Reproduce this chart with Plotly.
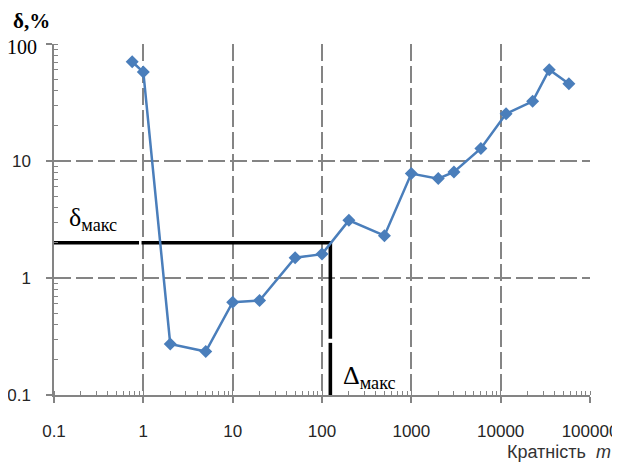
import plotly.graph_objects as go

# data
m_values = [0.75, 1, 2, 5, 10, 20, 50, 100, 200, 500, 1000, 2000, 3000, 6000, 11500, 22800, 35000, 58000]
delta_pct = [70.5, 57.5, 0.273, 0.235, 0.622, 0.642, 1.49, 1.60, 3.11, 2.30, 7.8, 7.07, 8.07, 12.8, 25.3, 32.4, 60.3, 45.7]

# reference (max) lines
ref_x = [0.1, 0.895, None, 0.955, 124, 124, None, 124, 124]
ref_y = [2, 2, None, 2, 2, 0.302, None, 0.279, 0.1]

x_tickvals = [0.1, 1, 10, 100, 1000, 10000, 100000]
x_ticktext = ["0.1", "1", "10", "100", "1000", "10000", "100000"]
y_tickvals = [0.1, 1, 10, 100]
y_ticktext = ["0.1", "1", "10", ""]

SANS = "Liberation Sans, Arial, sans-serif"
SERIF = "Liberation Serif, Times New Roman, serif"
GRID = "#848484"

fig = go.Figure()
fig.add_trace(go.Scatter(
    x=ref_x, y=ref_y, mode="lines",
    line=dict(color="black", width=3.6),
    hoverinfo="skip", showlegend=False, connectgaps=False,
))
fig.add_trace(go.Scatter(
    x=m_values, y=delta_pct, mode="lines+markers",
    line=dict(color="#4A7EBB", width=2.5),
    marker=dict(symbol="diamond", size=10, color="#4A7EBB"),
    showlegend=False,
))

common = dict(
    showgrid=True, gridcolor=GRID, gridwidth=1.5, griddash="17px,5px",
    showline=True, linecolor=GRID, linewidth=1.5,
    ticks="outside", ticklen=6, tickcolor=GRID, tickwidth=1.5,
    minor=dict(ticks="inside", ticklen=4, tickcolor=GRID, tickwidth=1, dtick="D1", showgrid=False),
    tickfont=dict(family=SANS, size=17, color="#262626"),
    zeroline=False, automargin=False,
)
fig.update_xaxes(type="log", range=[-1, 5], tickvals=x_tickvals, ticktext=x_ticktext,
                 ticklabelstandoff=14, **common)
fig.update_yaxes(type="log", range=[-1, 2], tickvals=y_tickvals, ticktext=y_ticktext,
                 ticklabelstandoff=12, **common)

annotations = [
    dict(text="<b>δ,%</b>", xref="paper", yref="paper", x=-0.08, y=1.066,
         xanchor="left", yanchor="middle", showarrow=False,
         font=dict(family=SERIF, size=21, color="black")),
    dict(text="100", xref="paper", yref="paper", x=-0.092, y=0.991,
         xanchor="left", yanchor="middle", showarrow=False,
         font=dict(family=SERIF, size=20, color="black")),
    dict(text="δ<sub>макс</sub>", xref="paper", yref="paper", x=0.024, y=0.45,
         xanchor="left", yanchor="bottom", showarrow=False,
         font=dict(family=SERIF, size=26, color="black")),
    dict(text="Δ<sub>макс</sub>", xref="paper", yref="paper", x=0.535, y=0.0,
         xanchor="left", yanchor="bottom", showarrow=False,
         font=dict(family=SERIF, size=26, color="black")),
    dict(text="Кратність  <i>m</i>", xref="paper", yref="paper", x=1.043, y=-0.162,
         xanchor="right", yanchor="middle", showarrow=False,
         font=dict(family=SANS, size=18, color="#333333")),
]

fig.update_layout(
    template="none",
    width=620, height=464,
    margin=dict(l=46, r=38, t=36, b=77),
    paper_bgcolor="white", plot_bgcolor="white",
    annotations=annotations,
)

fig.write_html("out.html")
